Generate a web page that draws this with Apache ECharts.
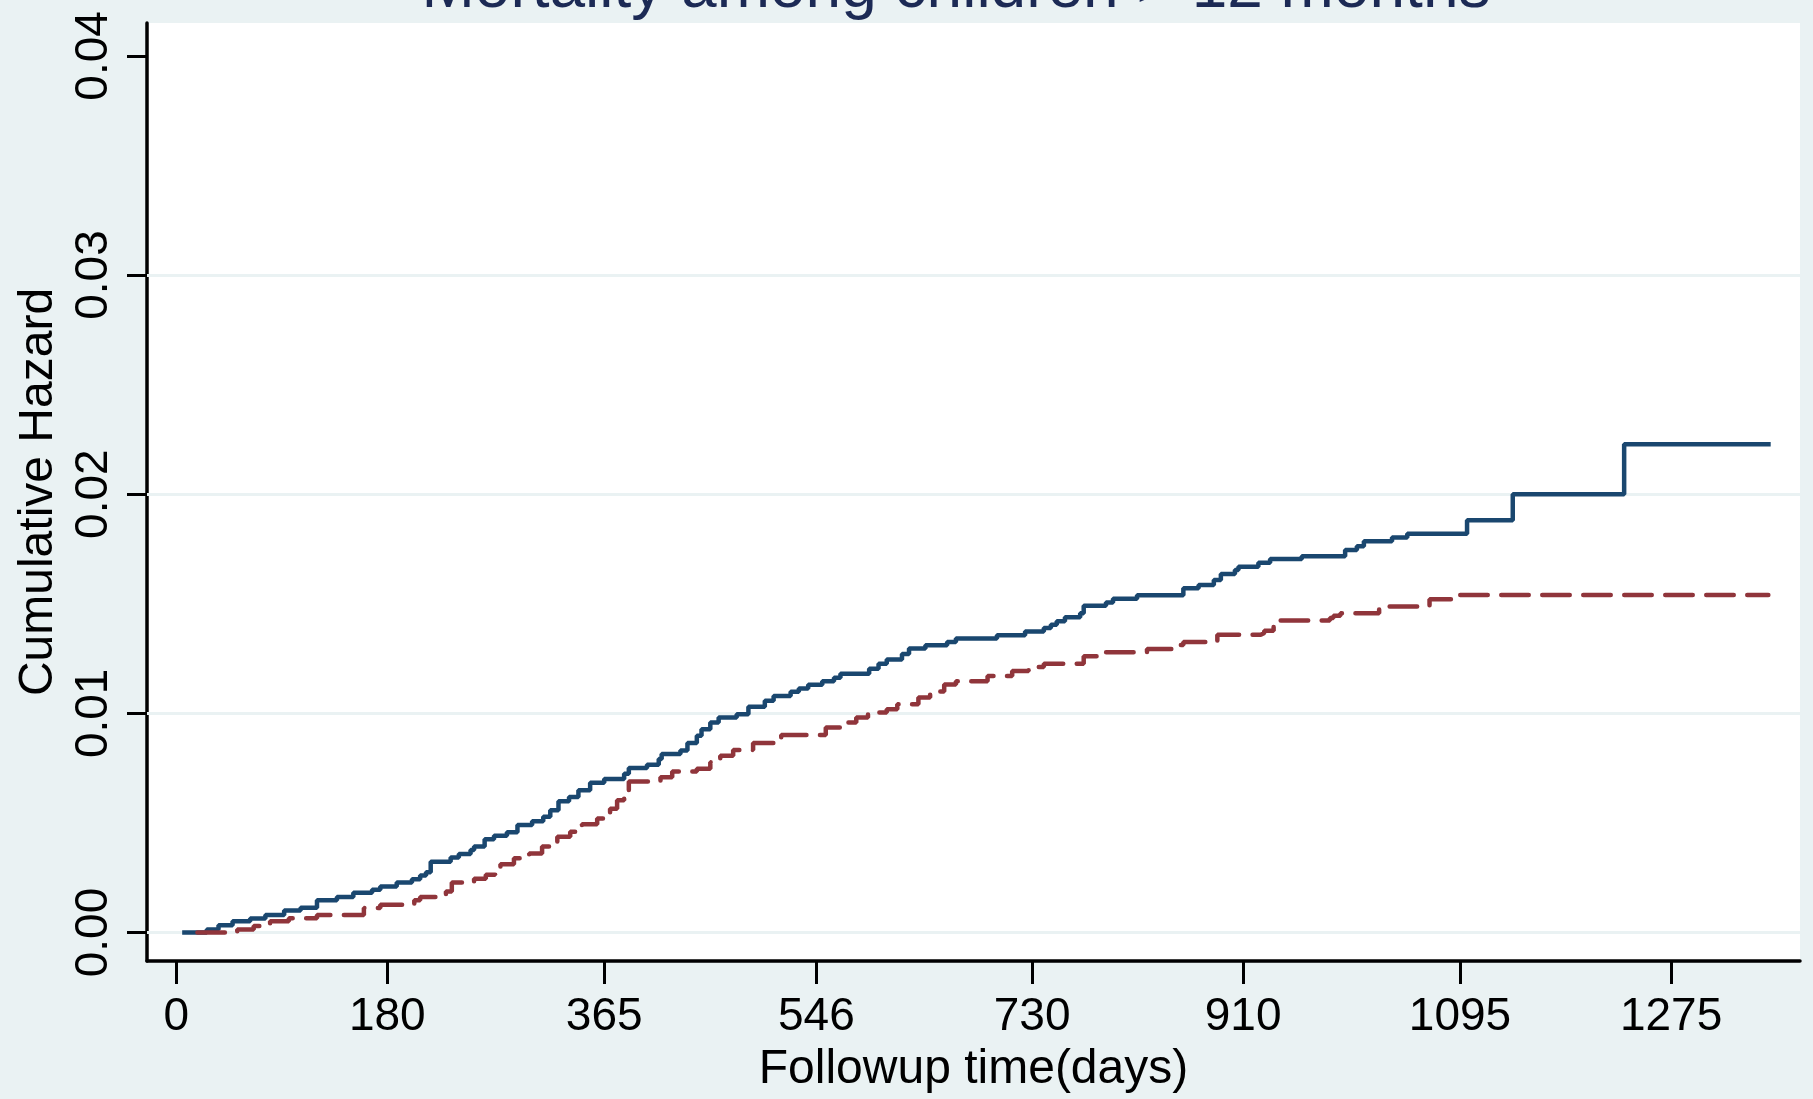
<!DOCTYPE html>
<html>
<head>
<meta charset="utf-8">
<script src="https://cdn.jsdelivr.net/npm/echarts@6/dist/echarts.min.js"></script>
<style>
html,body{margin:0;padding:0;background:#EAF2F3;}
#chart{width:1813px;height:1099px;}
</style>
</head>
<body>
<div id="chart"></div>
<script>
var titleText = "Mortality among children > 12 months";
var xAxisName = "Followup time(days)";
var yAxisName = "Cumulative Hazard";
var xTicks = [0, 180, 365, 546, 730, 910, 1095, 1275];
var yTicks = [0, 0.01, 0.02, 0.03, 0.04];
var gridValues = [0, 0.01, 0.02, 0.03];

var blueDays = [5, 26, 36, 48, 63, 76, 92, 106, 120, 137, 151, 167, 174, 188, 201, 208, 213, 217, 234, 241, 251, 254, 263, 271, 282, 291, 303.5, 313, 319, 326, 335, 343, 353, 365, 382, 386, 401.5, 411.5, 414, 430, 436, 444, 448, 455.5, 462.6, 478, 488, 502, 509.5, 524, 531, 539, 551, 561, 566.5, 591, 599, 606, 619, 625, 639, 657.5, 665, 700, 724, 740, 746, 751, 758, 771, 774, 793, 799, 819.5, 859, 872, 885, 891, 903, 906, 923, 933, 960, 997, 1007, 1013, 1037, 1050, 1101, 1140, 1235, 1360];
var blueHaz = [0, 0.00014, 0.00033, 0.00051, 0.00064, 0.0008, 0.001, 0.00113, 0.00147, 0.00162, 0.00181, 0.00195, 0.0021, 0.00228, 0.00243, 0.0026, 0.00275, 0.00323, 0.00342, 0.00358, 0.00376, 0.00393, 0.00426, 0.00441, 0.00457, 0.0049, 0.00508, 0.00528, 0.00558, 0.00599, 0.00618, 0.00649, 0.00683, 0.00701, 0.00724, 0.00751, 0.00766, 0.00792, 0.00815, 0.0083, 0.00865, 0.00898, 0.00928, 0.00958, 0.00981, 0.00996, 0.0103, 0.01057, 0.01079, 0.01098, 0.01113, 0.0113, 0.01147, 0.01163, 0.01181, 0.01203, 0.01226, 0.01246, 0.01271, 0.01296, 0.01311, 0.01326, 0.01342, 0.01356, 0.01374, 0.01389, 0.01404, 0.0142, 0.01439, 0.01457, 0.01491, 0.01506, 0.01523, 0.01539, 0.01571, 0.01586, 0.01608, 0.01636, 0.01654, 0.01669, 0.01687, 0.01704, 0.01717, 0.01745, 0.01763, 0.01785, 0.01802, 0.0182, 0.01881, 0.02, 0.02228, 0.02228];

var redDays = [18, 52, 66, 80, 96, 120, 160, 174, 203, 208, 230, 235, 254, 264, 272, 276.5, 288, 301, 312, 325, 336, 346, 359, 370, 376, 382, 386, 413, 423, 444, 455.5, 464, 475, 492, 516, 554, 568, 580, 590, 606, 615, 633, 643, 655, 665, 692, 713, 727, 740, 774, 788, 828, 852, 859, 888, 925, 928, 936, 940, 984, 987, 993, 1026, 1069, 1090, 1358];
var redHaz = [0, 0.00014, 0.0003, 0.00051, 0.00065, 0.0008, 0.00112, 0.00127, 0.00147, 0.00162, 0.00187, 0.00228, 0.00245, 0.00263, 0.00278, 0.00311, 0.00339, 0.00361, 0.00392, 0.00437, 0.0046, 0.00494, 0.0052, 0.00565, 0.00603, 0.00641, 0.00689, 0.00709, 0.00735, 0.00747, 0.00777, 0.00807, 0.00833, 0.00865, 0.00901, 0.00936, 0.00958, 0.00981, 0.01004, 0.01019, 0.01042, 0.01072, 0.011, 0.01132, 0.01146, 0.0117, 0.01193, 0.01212, 0.01226, 0.01261, 0.01279, 0.01294, 0.01312, 0.01326, 0.01359, 0.01367, 0.01377, 0.01404, 0.01424, 0.01435, 0.01445, 0.01457, 0.01488, 0.01521, 0.0154, 0.0154];

function pairs(xs, ys) { return xs.map(function (x, i) { return [x, ys[i]]; }); }

var FONT = "'Liberation Sans', Arial, sans-serif";
var chart = echarts.init(document.getElementById('chart'), null, {renderer: 'canvas'});
chart.setOption({
  backgroundColor: '#EAF2F3',
  animation: false,
  title: {
    text: titleText,
    left: 951,
    textAlign: 'center',
    top: -48,
    textStyle: {fontSize: 64, fontWeight: 'normal', color: '#1C2A55', fontFamily: FONT}
  },
  grid: {
    left: 147, right: 13, top: 23, bottom: 132,
    show: true, backgroundColor: '#FFFFFF', borderWidth: 0
  },
  xAxis: {
    type: 'value', min: -25, max: 1385,
    name: xAxisName, nameLocation: 'middle', nameGap: 85,
    nameTextStyle: {fontSize: 48, color: '#000', fontFamily: FONT},
    axisLine: {onZero: false, lineStyle: {color: '#000', width: 3.5}},
    axisTick: {show: true, length: 23, customValues: xTicks, lineStyle: {color: '#000', width: 3}},
    axisLabel: {customValues: xTicks, fontSize: 46, color: '#000', fontFamily: FONT, margin: 33,
      formatter: function (v) { return String(v); }},
    splitLine: {show: false}
  },
  yAxis: {
    type: 'value', min: -0.0013, max: 0.0415,
    name: yAxisName, nameLocation: 'middle', nameGap: 84,
    nameTextStyle: {fontSize: 48, color: '#000', fontFamily: FONT},
    axisLine: {onZero: false, lineStyle: {color: '#000', width: 3.5}},
    axisTick: {show: true, length: 20, customValues: yTicks, lineStyle: {color: '#000', width: 3}},
    axisLabel: {customValues: yTicks, rotate: 90, fontSize: 46, color: '#000', fontFamily: FONT, margin: 30,
      formatter: function (v) { return v.toFixed(2); }},
    splitLine: {show: false}
  },
  series: [
    {
      type: 'line', data: [], z: 1, silent: true,
      markLine: {
        z: 1, silent: true, symbol: 'none', label: {show: false}, animation: false,
        lineStyle: {color: '#EAF2F3', width: 3, type: 'solid'},
        data: gridValues.map(function (v) { return {yAxis: v}; })
      }
    },
    {
      type: 'line', step: 'end', showSymbol: false, z: 3,
      data: pairs(blueDays, blueHaz),
      lineStyle: {color: '#1A476F', width: 4.5}
    },
    {
      type: 'line', step: 'end', showSymbol: false, z: 4,
      data: pairs(redDays, redHaz),
      lineStyle: {color: '#90353B', width: 4.5, type: [27.5, 13.5], cap: 'round'}
    }
  ]
});
</script>
</body>
</html>
